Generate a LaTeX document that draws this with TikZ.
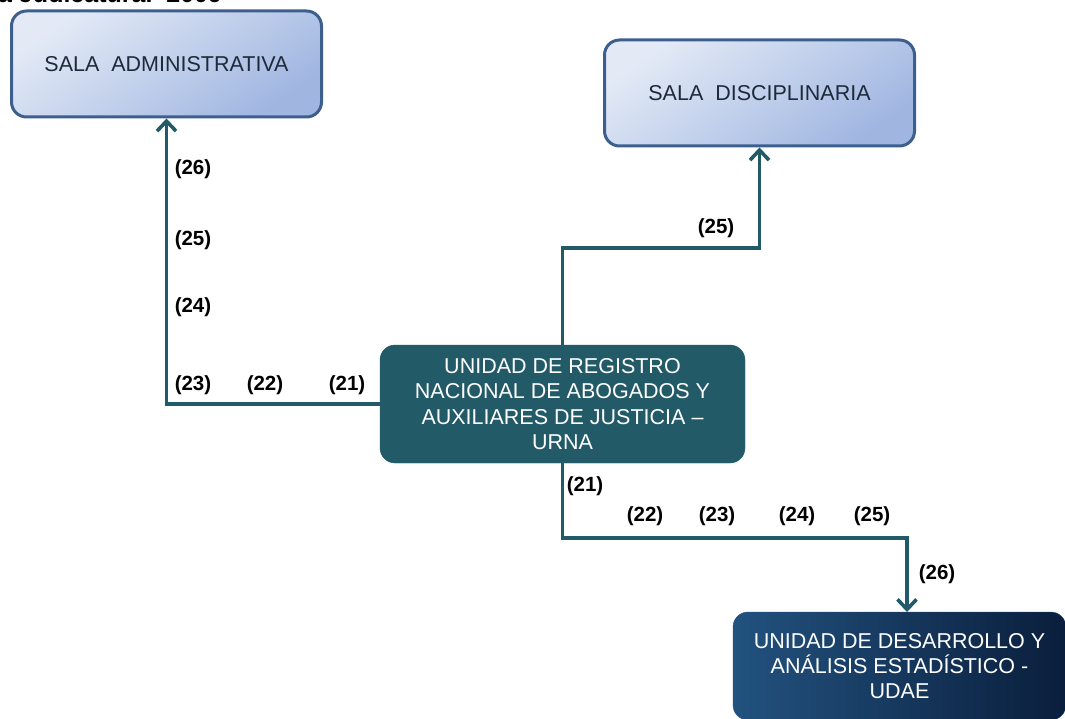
\documentclass[tikz,border=0pt]{standalone}
\usepackage{fontspec}
\setmainfont{Liberation Sans}
\usetikzlibrary{arrows.meta,positioning,calc}
\definecolor{salaborder}{HTML}{3D5F8E}
\definecolor{salalight}{HTML}{E3EAF6}
\definecolor{saladark}{HTML}{A0B6E1}
\definecolor{salatext}{HTML}{1E2A3A}
\definecolor{urnateal}{HTML}{225A68}
\definecolor{udaelight}{HTML}{22527F}
\definecolor{udaedark}{HTML}{0A1E3C}
\tikzset{
  org/sala/.style={
    draw=salaborder, line width=3pt, rounded corners=15pt,
    top color=salalight, bottom color=saladark, shading angle=35,
    minimum width=310pt, minimum height=106pt, align=center,
    text=salatext, font=\fontsize{21.5}{25}\selectfont
  },
  org/urna/.style={
    draw=urnateal, fill=urnateal, rounded corners=15pt,
    minimum width=365pt, minimum height=118pt, align=center,
    text=white, font=\fontsize{21.5}{25.3}\selectfont
  },
  org/udae/.style={
    draw=udaelight, left color=udaelight, right color=udaedark, rounded corners=15pt,
    minimum width=333pt, minimum height=108pt, align=center,
    text=white, font=\fontsize{21.5}{25.3}\selectfont
  },
  org/num/.style={font=\bfseries\fontsize{20.5}{23}\selectfont, inner sep=0pt},
  org/arr/.style={-{Straight Barb[length=10pt,width=19pt]}, urnateal, line width=3.6pt}
}

\begin{document}
\begin{tikzpicture}[x=1pt, y=-1pt]
  \useasboundingbox (0,0) rectangle (1065,719);
  \node[font=\bfseries\fontsize{25}{28}\selectfont, anchor=base west, inner sep=0pt] (fuente)
    at (-45,2.5) {de la Judicatura.\ \ 2009};

  \node[org/sala] (sadm) at (166.5,64) {SALA\ \ ADMINISTRATIVA};
  \node[org/sala] (sdis) at (759.5,93) {SALA\ \ DISCIPLINARIA};
  \node[org/urna] (urna) at (562.5,404)
    {UNIDAD DE REGISTRO\\NACIONAL DE ABOGADOS Y\\AUXILIARES DE JUSTICIA –\\URNA};
  \node[org/udae] (udae) at (899.5,666)
    {UNIDAD DE DESARROLLO Y\\ANÁLISIS ESTADÍSTICO -\\UDAE};
  \coordinate (udaein) at (907,612);

  \draw[org/arr] (urna.west) -| (sadm.south);
  \draw[org/arr] (urna.north) -- ++(0,-97) -| (sdis.south);
  \draw[org/arr] (urna.south) -- ++(0,75) -| (udaein);

  % numeros hacia sala administrativa
  \node[org/num] (adm26) at (193,169) {(26)};
  \node[org/num] (adm25) at (193,240) {(25)};
  \node[org/num] (adm24) at (193,307) {(24)};
  \node[org/num] (adm23) at (193,385) {(23)};
  \node[org/num] (adm22) at (265,385) {(22)};
  \node[org/num] (adm21) at (347,385) {(21)};

  % numero hacia sala disciplinaria
  \node[org/num] (dis25) at (716,228) {(25)};

  % numeros hacia udae
  \node[org/num] (dae21) at (585,486) {(21)};
  \node[org/num] (dae22) at (645,516) {(22)};
  \node[org/num] (dae23) at (717,516) {(23)};
  \node[org/num] (dae24) at (797,516) {(24)};
  \node[org/num] (dae25) at (872,516) {(25)};
  \node[org/num] (dae26) at (937,574) {(26)};
\end{tikzpicture}
\end{document}
